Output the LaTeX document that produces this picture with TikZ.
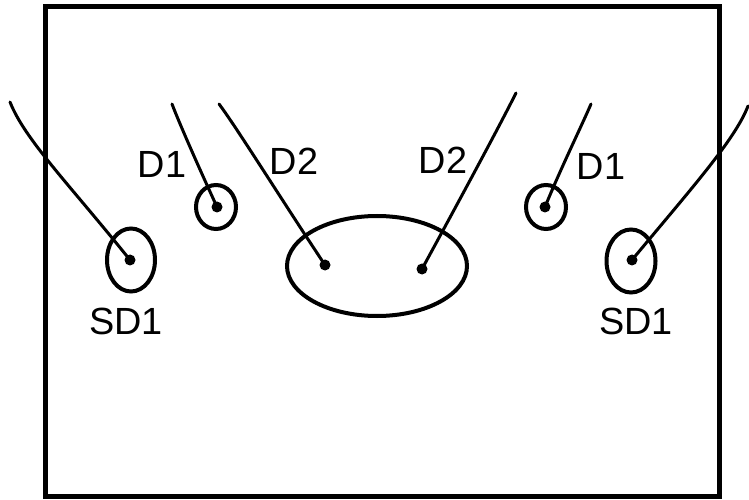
\documentclass[tikz,border=0pt]{standalone}
\usepackage{fontspec}
\setmainfont{Liberation Sans}
\usetikzlibrary{shapes.geometric}
\begin{document}
\begin{tikzpicture}[x=1bp,y=-1bp,
  ring/.style={draw=black, ellipse, line width=4bp, inner sep=0pt, minimum width=#1},
  dotmark/.style={circle, fill=black, inner sep=0pt, minimum size=11bp},
  wire/.style={line width=3bp, line cap=round},
  lab/.style={font=\fontsize{38}{44}\selectfont, inner sep=0pt}]
\useasboundingbox (0,0) rectangle (749,500);
% frame
\draw[line width=5bp] (45.5,7) rectangle (719,496);
% circles
\node[ring=48bp, minimum height=63bp] (sdL) at (131,260) {};
\node[ring=40bp, minimum height=44bp] (dL) at (216,207) {};
\node[ring=180bp, minimum height=100bp] (big) at (377,266) {};
\node[ring=40bp, minimum height=44bp] (dR) at (546,207) {};
\node[ring=49bp, minimum height=63bp] (sdR) at (631,261) {};
% dots
\node[dotmark] (pSL) at (130,260) {};
\node[dotmark] (pDL) at (217,207) {};
\node[dotmark] (pBL) at (325,265) {};
\node[dotmark] (pBR) at (422,269) {};
\node[dotmark] (pDR) at (545,207) {};
\node[dotmark] (pSR) at (632,260) {};
% free ends
\coordinate (eSL) at (10,102);
\coordinate (eDL) at (172,104);
\coordinate (eBL) at (219,104);
\coordinate (eBR) at (516,93);
\coordinate (eDR) at (591,104);
\coordinate (eSR) at (748,106);
% wires
\draw[wire] (pSL.center) .. controls (70,185) and (25,140) .. (eSL);
\draw[wire] (pDL.center) .. controls (200,170) and (180,125) .. (eDL);
\draw[wire] (pBL.center) .. controls (285,205) and (235,125) .. (eBL);
\draw[wire] (pBR.center) .. controls (465,190) and (500,125) .. (eBR);
\draw[wire] (pDR.center) .. controls (560,170) and (582,125) .. (eDR);
\draw[wire] (pSR.center) .. controls (690,190) and (735,140) .. (eSR);
% labels
\node[lab] (lSL) at (126,321) {SD1};
\node[lab] (lDL) at (162,164) {D1};
\node[lab] (lBL) at (294,161) {D2};
\node[lab] (lBR) at (443,160) {D2};
\node[lab] (lDR) at (601,166) {D1};
\node[lab] (lSR) at (636,321) {SD1};
\end{tikzpicture}
\end{document}
